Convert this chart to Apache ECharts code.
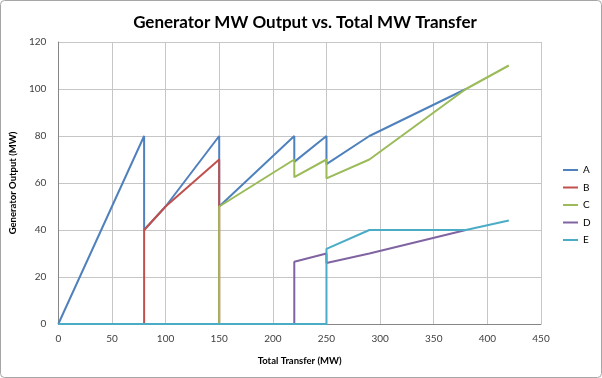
<!DOCTYPE html>
<html>
<head>
<meta charset="utf-8">
<script src="https://cdn.jsdelivr.net/npm/echarts@6/dist/echarts.min.js"></script>
<style>
html,body{margin:0;padding:0;background:#fff;}
#chart{width:602px;height:378px;}
</style>
</head>
<body>
<div id="chart"></div>
<script>
// Data: [Total Transfer (MW), Generator Output (MW)]
const seriesNames = ['A', 'B', 'C', 'D', 'E'];
const pointsA = [[0,0],[80,80],[80,40],[100,50],[150,80],[150,50],[220,80],[220,69],[250,80],[250,68],[290,80],[380,100]];
const pointsB = [[80,0],[80,40],[100,50],[150,70],[150,0]];
const pointsC = [[150,0],[150,50],[220,70],[220,62.5],[250,70],[250,62],[290,70],[380,100],[420,110]];
const pointsD = [[220,0],[220,26.5],[250,30],[250,26],[290,30],[380,40]];
const pointsE = [[0,0],[250,0],[250,32],[290,40],[380,40],[420,44]];
const xTicks = [0,50,100,150,200,250,300,350,400,450];
const yTicks = [0,20,40,60,80,100,120];
const colors = ['#4F81BD','#C0504D','#9BBB59','#8064A2','#4BACC6'];

const allPoints = [pointsA, pointsB, pointsC, pointsD, pointsE];
const font = 'Lato, "Open Sans", sans-serif';

const chart = echarts.init(document.getElementById('chart'), null, {renderer: 'canvas'});
chart.setOption({
  animation: false,
  backgroundColor: '#ffffff',
  color: colors,
  title: {
    text: 'Generator MW Output vs. Total MW Transfer',
    left: 300, top: 9, textAlign: 'center',
    textStyle: {fontFamily: font, fontSize: 17, fontWeight: 'bold', color: '#000'}
  },
  graphic: [{
    type: 'rect', shape: {x: 0.5, y: 0.5, width: 601, height: 377, r: 4},
    style: {fill: 'none', stroke: '#a6a6a6', lineWidth: 1}, silent: true
  }],
  legend: {
    orient: 'vertical', left: 558, top: 159,
    icon: 'rect', itemWidth: 15, itemHeight: 2, itemGap: 5.5,
    textStyle: {fontFamily: font, fontSize: 10, color: '#000', lineHeight: 12},
    data: seriesNames
  },
  grid: {left: 56, right: 61, top: 42, bottom: 54, containLabel: false},
  xAxis: {
    type: 'value', min: xTicks[0], max: xTicks[xTicks.length-1], interval: 50,
    name: 'Total Transfer (MW)', nameLocation: 'middle', nameGap: 32,
    nameTextStyle: {fontFamily: font, fontSize: 9.5, fontWeight: 'bold', color: '#000'},
    axisLine: {show: true, lineStyle: {color: '#868686'}},
    axisTick: {show: false},
    axisLabel: {fontFamily: font, fontSize: 10, color: '#404040', margin: 10},
    splitLine: {show: true, lineStyle: {color: '#c6c6c6', width: 1}}
  },
  yAxis: {
    type: 'value', min: yTicks[0], max: yTicks[yTicks.length-1], interval: 20,
    name: 'Generator Output (MW)', nameLocation: 'middle', nameGap: 25, nameRotate: 90,
    nameTextStyle: {fontFamily: font, fontSize: 9.5, fontWeight: 'bold', color: '#000'},
    axisLine: {show: true, lineStyle: {color: '#868686'}},
    axisTick: {show: false},
    axisLabel: {fontFamily: font, fontSize: 10, color: '#404040', margin: 12},
    splitLine: {show: true, lineStyle: {color: '#c6c6c6', width: 1}}
  },
  series: seriesNames.map((n, i) => ({
    name: n, type: 'line', data: allPoints[i],
    showSymbol: false, symbol: 'none',
    lineStyle: {width: 2, color: colors[i]},
    itemStyle: {color: colors[i]},
    z: 2 + i
  }))
});
</script>
</body>
</html>
